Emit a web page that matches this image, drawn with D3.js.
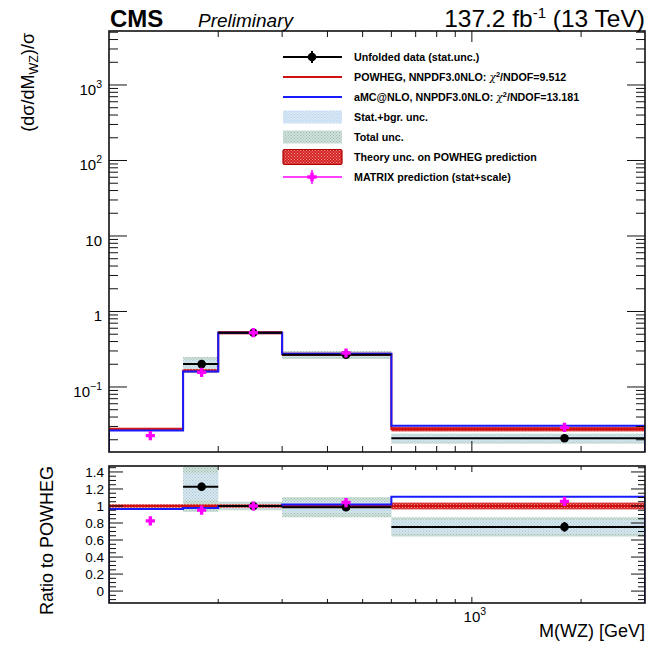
<!DOCTYPE html>
<html>
<head>
<meta charset="utf-8">
<script src="https://cdn.jsdelivr.net/npm/d3@7"></script>
<style>
  body { margin: 0; background: #fff; }
  svg { display: block; }
  text { font-family: "Liberation Sans", Arial, Helvetica, sans-serif; fill: #000; }
</style>
</head>
<body>
<svg id="chart" width="654" height="648"></svg>
<script>
// ---- binning and measured / predicted normalised cross sections ----
const binEdges   = [100, 160, 200, 300, 600, 3000];
const binCenters = [130, 180, 250, 450, 1800];
const powheg     = [0.0275, 0.164, 0.524, 0.271, 0.0277];
const amcnlo     = [0.0265, 0.160, 0.524, 0.276, 0.0307];
const theoryUnc  = [0.02, 0.02, 0.02, 0.02, 0.04];        // relative
const unfolded   = [null, 0.201, 0.524, 0.267, 0.0209];
const dataStat   = [null, 0.008, 0.010, 0.004, 0.0016];    // absolute
const totalUnc   = [null, 0.24, 0.05, 0.12, 0.15];         // relative
const statBgrUnc = [null, 0.13, 0.03, 0.07, 0.11];         // relative
const matrix     = [0.0227, 0.156, 0.524, 0.282, 0.0292];
const matrixUnc  = [0.02, 0.02, 0.02, 0.02, 0.04];         // relative

const yTopMajor = [0.1, 1, 10, 100, 1000];
const yTopLabels = [["10", "\u22121"], ["1", null], ["10", null], ["10", "2"], ["10", "3"]];
const ratioMajor = [0, 0.2, 0.4, 0.6, 0.8, 1, 1.2, 1.4];
const ratioLabels = ["0", "0.2", "0.4", "0.6", "0.8", "1", "1.2", "1.4"];

const legendEntries = [
  { kind: "data",   text: ["Unfolded data (stat.unc.)"] },
  { kind: "powheg", text: ["POWHEG, NNPDF3.0NLO: ", "\u03c7", "2", "/NDOF=9.512"] },
  { kind: "amc",    text: ["aMC@NLO, NNPDF3.0NLO: ", "\u03c7", "2", "/NDOF=13.181"] },
  { kind: "stat",   text: ["Stat.+bgr. unc."] },
  { kind: "total",  text: ["Total unc."] },
  { kind: "theory", text: ["Theory unc. on POWHEG prediction"] },
  { kind: "matrix", text: ["MATRIX prediction (stat+scale)"] }
];

// ---- layout ----
const L = 109, R = 645, T1 = 31, B1 = 452, T2 = 466, B2 = 603;
const RED = "#d01010", BLUE = "#1a1aff", MAG = "#ff00ff";

const svg = d3.select("#chart");
const defs = svg.append("defs");

function dotPattern(id, bg, dot) {
  const p = defs.append("pattern").attr("id", id)
    .attr("width", 3).attr("height", 3).attr("patternUnits", "userSpaceOnUse");
  p.append("rect").attr("width", 3).attr("height", 3).attr("fill", bg);
  p.append("rect").attr("x", 0).attr("y", 0).attr("width", 1).attr("height", 1).attr("fill", dot);
  p.append("rect").attr("x", 1.5).attr("y", 1.5).attr("width", 1).attr("height", 1).attr("fill", dot);
}
dotPattern("patTotal", "#cfe0da", "#9dbdb3");
dotPattern("patStat", "#d8e8f7", "#b4d0ec");
dotPattern("patTheory", "#d42424", "#f09090");

defs.append("clipPath").attr("id", "clipTop").append("rect")
  .attr("x", L).attr("y", T1).attr("width", R - L).attr("height", B1 - T1);
defs.append("clipPath").attr("id", "clipRat").append("rect")
  .attr("x", L).attr("y", T2).attr("width", R - L).attr("height", B2 - T2);

const x = d3.scaleLog().domain([100, 3000]).range([L, R]);
const yTop = d3.scaleLog().domain([0.01377, 5190]).range([B1, T1]);
const yRat = d3.scaleLinear().domain([-0.14, 1.47]).range([B2, T2]);

const nb = powheg.length;
const bins = d3.range(nb).map(i => ({
  i, lo: binEdges[i], hi: binEdges[i + 1], c: binCenters[i],
  p: powheg[i], a: amcnlo[i], th: theoryUnc[i],
  d: unfolded[i], ds: dataStat[i], tu: totalUnc[i], su: statBgrUnc[i],
  m: matrix[i], mu: matrixUnc[i]
}));
const dataBins = bins.filter(b => b.d != null);

function stepPath(vals, yScale, yBase) {
  let s = `M${x(binEdges[0])},${yBase}`;
  vals.forEach((v, i) => {
    s += `L${x(binEdges[i])},${yScale(v)}L${x(binEdges[i + 1])},${yScale(v)}`;
  });
  s += `L${x(binEdges[nb])},${yBase}`;
  return s;
}

const crossPath = (s, t) =>
  `M${-t},${-s}L${t},${-s}L${t},${-t}L${s},${-t}L${s},${t}L${t},${t}L${t},${s}L${-t},${s}L${-t},${t}L${-s},${t}L${-s},${-t}L${-t},${-t}Z`;

// ================= upper panel =================
const gTop = svg.append("g").attr("clip-path", "url(#clipTop)");

gTop.selectAll("rect.total").data(dataBins).join("rect")
  .attr("x", b => x(b.lo)).attr("width", b => x(b.hi) - x(b.lo))
  .attr("y", b => yTop(b.d * (1 + b.tu)))
  .attr("height", b => yTop(b.d * (1 - b.tu)) - yTop(b.d * (1 + b.tu)))
  .attr("fill", "url(#patTotal)");
gTop.selectAll("rect.stat").data(dataBins).join("rect")
  .attr("x", b => x(b.lo)).attr("width", b => x(b.hi) - x(b.lo))
  .attr("y", b => yTop(b.d * (1 + b.su)))
  .attr("height", b => yTop(b.d * (1 - b.su)) - yTop(b.d * (1 + b.su)))
  .attr("fill", "url(#patStat)").attr("opacity", 0.7);

gTop.selectAll("rect.theory").data(bins).join("rect")
  .attr("x", b => x(b.lo)).attr("width", b => x(b.hi) - x(b.lo))
  .attr("y", b => yTop(b.p * (1 + b.th)) - 1)
  .attr("height", b => yTop(b.p * (1 - b.th)) - yTop(b.p * (1 + b.th)) + 2)
  .attr("fill", "url(#patTheory)");

gTop.append("path").attr("d", stepPath(powheg, yTop, B1))
  .attr("fill", "none").attr("stroke", RED).attr("stroke-width", 2);
gTop.append("path").attr("d", stepPath(amcnlo, yTop, B1 + 2))
  .attr("fill", "none").attr("stroke", BLUE).attr("stroke-width", 2);

function drawData(g, yScale, val, err) {
  g.selectAll(null).data(dataBins).join("line")
    .attr("x1", b => x(b.lo)).attr("x2", b => x(b.hi))
    .attr("y1", b => yScale(val(b))).attr("y2", b => yScale(val(b)))
    .attr("stroke", "#000").attr("stroke-width", 2);
  g.selectAll(null).data(dataBins).join("line")
    .attr("x1", b => x(b.c)).attr("x2", b => x(b.c))
    .attr("y1", b => yScale(val(b) + err(b))).attr("y2", b => yScale(val(b) - err(b)))
    .attr("stroke", "#000").attr("stroke-width", 2);
  g.selectAll(null).data(dataBins).join("circle")
    .attr("cx", b => x(b.c)).attr("cy", b => yScale(val(b))).attr("r", 4.3)
    .attr("fill", "#000");
}
function drawMatrix(g, yScale, val, err) {
  g.selectAll(null).data(bins).join("line")
    .attr("x1", b => x(b.c)).attr("x2", b => x(b.c))
    .attr("y1", b => yScale(val(b) + err(b))).attr("y2", b => yScale(val(b) - err(b)))
    .attr("stroke", MAG).attr("stroke-width", 1.5);
  g.selectAll(null).data(bins).join("path")
    .attr("transform", b => `translate(${x(b.c)},${yScale(val(b))})`)
    .attr("d", crossPath(4.6, 1.7)).attr("fill", MAG);
}
drawData(gTop, yTop, b => b.d, b => b.ds);
drawMatrix(gTop, yTop, b => b.m, b => b.m * b.mu);

// ================= ratio panel =================
const gRat = svg.append("g").attr("clip-path", "url(#clipRat)");
gRat.selectAll(null).data(dataBins).join("rect")
  .attr("x", b => x(b.lo)).attr("width", b => x(b.hi) - x(b.lo))
  .attr("y", b => yRat(b.d / b.p * (1 + b.tu)))
  .attr("height", b => yRat(b.d / b.p * (1 - b.tu)) - yRat(b.d / b.p * (1 + b.tu)))
  .attr("fill", "url(#patTotal)");
gRat.selectAll(null).data(dataBins).join("rect")
  .attr("x", b => x(b.lo)).attr("width", b => x(b.hi) - x(b.lo))
  .attr("y", b => yRat(b.d / b.p * (1 + b.su)))
  .attr("height", b => yRat(b.d / b.p * (1 - b.su)) - yRat(b.d / b.p * (1 + b.su)))
  .attr("fill", "url(#patStat)").attr("opacity", 0.7);
gRat.selectAll(null).data(bins).join("rect")
  .attr("x", b => x(b.lo)).attr("width", b => x(b.hi) - x(b.lo))
  .attr("y", b => yRat(1 + b.th))
  .attr("height", b => yRat(1 - b.th) - yRat(1 + b.th))
  .attr("fill", "url(#patTheory)");
gRat.append("path").attr("d", stepPath(powheg.map(() => 1), yRat, B2 + 2))
  .attr("fill", "none").attr("stroke", RED).attr("stroke-width", 2);
gRat.append("path").attr("d", stepPath(amcnlo.map((a, i) => a / powheg[i]), yRat, B2 + 2))
  .attr("fill", "none").attr("stroke", BLUE).attr("stroke-width", 2);
drawData(gRat, yRat, b => b.d / b.p, b => b.ds / b.p);
drawMatrix(gRat, yRat, b => b.m / b.p, b => b.m * b.mu / b.p);

// ================= frames and ticks =================
const axes = svg.append("g").attr("stroke", "#111").attr("stroke-width", 1);
function tickLine(x1, y1, x2, y2) {
  axes.append("line").attr("x1", x1).attr("y1", y1).attr("x2", x2).attr("y2", y2);
}
// x ticks (log): minor at 2..9 x 10^n, major at 10^3
const xMinor = [200, 300, 400, 500, 600, 700, 800, 900, 2000];
[[T1, B1, 6, 11], [T2, B2, 4, 6]].forEach(([t, bt, mn, mj]) => {
  xMinor.forEach(v => { tickLine(x(v), bt, x(v), bt - mn); tickLine(x(v), t, x(v), t + mn); });
  tickLine(x(1000), bt, x(1000), bt - mj); tickLine(x(1000), t, x(1000), t + mj);
});
// upper y ticks
const yTopMinor = [];
[-2, -1, 0, 1, 2, 3].forEach(e => d3.range(2, 10).forEach(k => {
  const v = k * Math.pow(10, e);
  if (v > yTop.domain()[0] && v < yTop.domain()[1]) yTopMinor.push(v);
}));
yTopMinor.forEach(v => { tickLine(L, yTop(v), L + 9, yTop(v)); tickLine(R, yTop(v), R - 9, yTop(v)); });
yTopMajor.forEach(v => { tickLine(L, yTop(v), L + 18, yTop(v)); tickLine(R, yTop(v), R - 18, yTop(v)); });
// ratio y ticks
d3.range(-0.10, 1.47, 0.05).forEach(v => {
  v = Math.round(v * 100) / 100;
  const major = Math.abs(v * 5 - Math.round(v * 5)) < 1e-6 && v >= 0;
  const len = major ? 14 : 7;
  tickLine(L, yRat(v), L + len, yRat(v)); tickLine(R, yRat(v), R - len, yRat(v));
});
svg.append("rect").attr("x", L).attr("y", T1).attr("width", R - L).attr("height", B1 - T1)
  .attr("fill", "none").attr("stroke", "#111").attr("stroke-width", 1.6);
svg.append("rect").attr("x", L).attr("y", T2).attr("width", R - L).attr("height", B2 - T2)
  .attr("fill", "none").attr("stroke", "#111").attr("stroke-width", 1.6);

// ================= labels =================
yTopMajor.forEach((v, i) => {
  const [base, sup] = yTopLabels[i];
  const t = svg.append("text").attr("text-anchor", "end").attr("font-size", 15)
    .attr("x", L - 7).attr("y", yTop(v) + 10);
  t.append("tspan").text(base);
  if (sup) t.append("tspan").attr("font-size", 10.5).attr("dy", -7).text(sup);
});
ratioMajor.forEach((v, i) => {
  svg.append("text").attr("text-anchor", "end").attr("font-size", 13.5)
    .attr("x", L - 5).attr("y", yRat(v) + 5).text(ratioLabels[i]);
});
{
  const t = svg.append("text").attr("text-anchor", "middle").attr("font-size", 15)
    .attr("x", x(1000) + 3).attr("y", 622);
  t.append("tspan").text("10");
  t.append("tspan").attr("font-size", 10.5).attr("dy", -7).text("3");
}
svg.append("text").attr("text-anchor", "end").attr("font-size", 18)
  .attr("x", R).attr("y", 637).text("M(WZ) [GeV]");
svg.append("text").attr("text-anchor", "end").attr("font-size", 18)
  .attr("transform", `translate(53,${T2}) rotate(-90)`).text("Ratio to POWHEG");
{
  const t = svg.append("text").attr("text-anchor", "end").attr("font-size", 18)
    .attr("transform", `translate(34,${T1 + 2}) rotate(-90)`);
  t.append("tspan").text("(d\u03c3/dM");
  t.append("tspan").attr("font-size", 12.5).attr("dy", 4).text("WZ");
  t.append("tspan").attr("dy", -4).text(")/\u03c3");
}
svg.append("text").attr("x", 110).attr("y", 27).attr("font-size", 24)
  .attr("font-weight", "bold").text("CMS");
svg.append("text").attr("x", 198).attr("y", 27).attr("font-size", 19)
  .attr("font-style", "italic").text("Preliminary");
{
  const t = svg.append("text").attr("text-anchor", "end").attr("x", R).attr("y", 27).attr("font-size", 24.5);
  t.append("tspan").text("137.2 fb");
  t.append("tspan").attr("font-size", 15).attr("dy", -9).text("-1");
  t.append("tspan").attr("dy", 9).text(" (13 TeV)");
}

// ================= legend =================
const lg = svg.append("g");
const lx0 = 283, lx1 = 342, ltx = 354;
legendEntries.forEach((e, k) => {
  const yc = 57 + k * 20;
  const g = lg.append("g");
  if (e.kind === "data") {
    g.append("line").attr("x1", lx0).attr("x2", lx1).attr("y1", yc).attr("y2", yc)
      .attr("stroke", "#000").attr("stroke-width", 2);
    g.append("line").attr("x1", 312).attr("x2", 312).attr("y1", yc - 6).attr("y2", yc + 6)
      .attr("stroke", "#000").attr("stroke-width", 2);
    g.append("circle").attr("cx", 312).attr("cy", yc).attr("r", 4.3).attr("fill", "#000");
  } else if (e.kind === "powheg" || e.kind === "amc") {
    g.append("line").attr("x1", lx0).attr("x2", lx1).attr("y1", yc).attr("y2", yc)
      .attr("stroke", e.kind === "powheg" ? RED : BLUE).attr("stroke-width", 2);
  } else if (e.kind === "stat" || e.kind === "total") {
    g.append("rect").attr("x", lx0).attr("y", yc - 6.5).attr("width", lx1 - lx0).attr("height", 13)
      .attr("fill", e.kind === "stat" ? "url(#patStat)" : "url(#patTotal)");
  } else if (e.kind === "theory") {
    g.append("rect").attr("x", lx0).attr("y", yc - 7.5).attr("width", lx1 - lx0).attr("height", 15)
      .attr("rx", 1.5).attr("fill", "url(#patTheory)").attr("stroke", "#b00000").attr("stroke-width", 1.2);
  } else if (e.kind === "matrix") {
    g.append("line").attr("x1", lx0).attr("x2", lx1).attr("y1", yc).attr("y2", yc)
      .attr("stroke", MAG).attr("stroke-width", 1.5);
    g.append("line").attr("x1", 312).attr("x2", 312).attr("y1", yc - 7).attr("y2", yc + 7)
      .attr("stroke", MAG).attr("stroke-width", 1.5);
    g.append("path").attr("transform", `translate(312,${yc})`).attr("d", crossPath(4.6, 1.7)).attr("fill", MAG);
  }
  const t = g.append("text").attr("x", ltx).attr("y", yc + 4)
    .attr("font-size", 10.7).attr("font-weight", "bold");
  if (e.text.length === 1) {
    t.text(e.text[0]);
  } else {
    t.append("tspan").text(e.text[0]);
    t.append("tspan").attr("font-weight", "normal").attr("font-family", "DejaVu Serif, serif")
      .attr("font-style", "italic").text(e.text[1]);
    t.append("tspan").attr("font-size", 7.5).attr("dy", -4).text(e.text[2]);
    t.append("tspan").attr("dy", 4).text(e.text[3]);
  }
});
</script>
</body>
</html>
